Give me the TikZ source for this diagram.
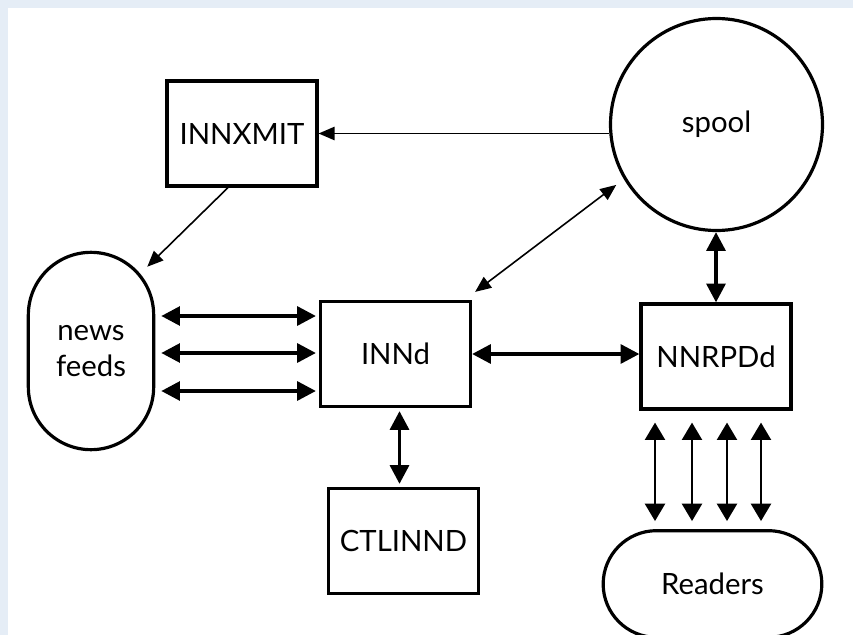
\documentclass[tikz,border=0pt]{standalone}
\usepackage{fontspec}
\setmainfont{Lato}
\usetikzlibrary{arrows.meta,calc}
\definecolor{scanblue}{RGB}{229,237,246}

\tikzset{every picture/.style={line width=0.75pt}}
\tikzset{
  box/.style={draw,line width=2.4pt,minimum width=112.5pt,minimum height=78.75pt,inner sep=0pt,font=\fontsize{22}{27}\selectfont},
  pill/.style={draw,line width=2.4pt,inner sep=0pt,align=center,font=\fontsize{22}{27}\selectfont},
  thickarr/.style={line width=2.8pt,{Triangle[length=14pt,width=14pt]}-{Triangle[length=14pt,width=14pt]}},
  thinarr/.style={line width=1.2pt,-{Triangle[length=12pt,width=10pt]}},
  thinboth/.style={line width=1.2pt,{Triangle[length=12pt,width=10pt]}-{Triangle[length=12pt,width=10pt]}},
  readarr/.style={line width=1.6pt,{Triangle[length=13pt,width=15pt]}-{Triangle[length=13pt,width=15pt]}}
}

\begin{document}
\begin{tikzpicture}[x=0.75pt,y=0.75pt,yscale=-1,xscale=1]
\useasboundingbox (0,0) rectangle (853,635);
%scan border
\fill[scanblue] (0,0) rectangle (853,635);
\fill[white] (8,8) rectangle (853,635);

% Boxes
\node[box] (INNXMIT) at (242,133.5) {INNXMIT};
\node[box] (INNd) at (395.5,354) {INNd};
\node[box] (NNRPDd) at (716,356.5) {NNRPDd};
\node[box] (CTLINND) at (403.5,541) {CTLINND};
% Circle
\node[draw,circle,line width=2.4pt,minimum size=159pt,inner sep=0pt,font=\fontsize{22}{27}\selectfont] (spool) at (716.5,124.5) {spool};
% Rounded shapes
\node[pill,minimum width=94pt,minimum height=148pt,rounded corners=47pt] (feeds) at (91,351) {news\\feeds};
\node[pill,minimum width=164pt,minimum height=80pt,rounded corners=40pt] (readers) at (712.5,584) {Readers};

%Straight Lines
\draw[thinarr] (INNXMIT.east -| spool.west) -- (INNXMIT.east);
\draw[thinarr] ($(INNXMIT.south)+(-14,0)$) -- ($(feeds.north east)+(-8,16)$);
\draw[thinboth] ($(INNd.north east)+(3,-8)$) -- ($(spool.211)+(-8,5)$);
\draw[thickarr] (NNRPDd.north |- spool.south) -- (NNRPDd.north);
\foreach \dy in {-38,-1,37}
  \draw[thickarr] ($(feeds.east |- INNd.west)+(6,\dy)$) -- ($(INNd.west)+(-3,\dy)$);
\draw[thickarr] (INNd.east) -- (INNd.east -| NNRPDd.west);
\draw[thickarr] ($(INNd.south)+(4,3)$) -- ($(INNd.south |- CTLINND.north)+(4,-3)$);
\foreach \dx in {-61,-24,11,45}
  \draw[readarr] ($(NNRPDd.south)+(\dx,12)$) -- ($(NNRPDd.south |- readers.north)+(\dx,-8)$);

\end{tikzpicture}
\end{document}
